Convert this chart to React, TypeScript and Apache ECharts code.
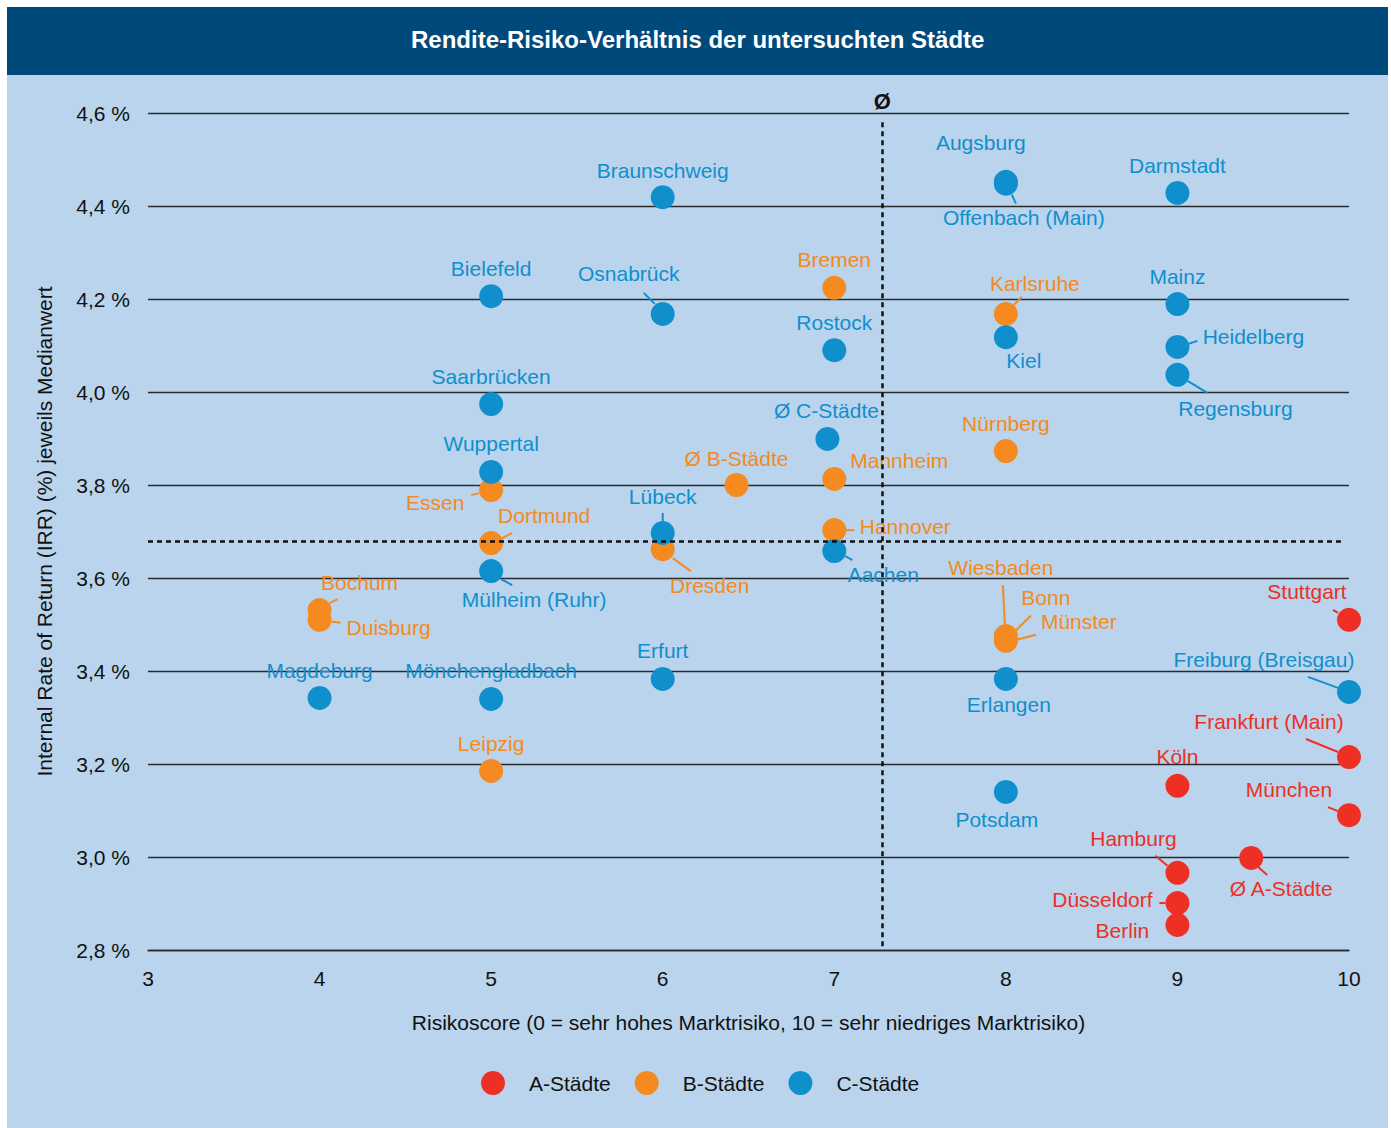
import React, { useEffect, useRef } from "react";
import * as echarts from "echarts";

// ---------- data ----------
const aCities = ["Stuttgart", "Frankfurt (Main)", "Köln", "München", "Ø A-Städte", "Hamburg", "Düsseldorf", "Berlin"];
const aRisk = [10, 10, 9, 10, 9.43, 9, 9, 9];
const aIrr = [3.51, 3.215, 3.153, 3.09, 2.998, 2.966, 2.901, 2.854];

const bCities = ["Bremen", "Karlsruhe", "Nürnberg", "Mannheim", "Ø B-Städte", "Essen", "Hannover", "Dortmund", "Dresden", "Bochum", "Duisburg", "Wiesbaden", "Bonn", "Münster", "Leipzig"];
const bRisk = [7, 8, 8, 7, 6.43, 5, 7, 5, 6, 4, 4, 8, 8, 8, 5];
const bIrr = [4.224, 4.168, 3.873, 3.813, 3.8, 3.789, 3.703, 3.675, 3.662, 3.531, 3.51, 3.475, 3.47, 3.465, 3.185];

const cCities = ["Braunschweig", "Offenbach (Main)", "Augsburg", "Darmstadt", "Bielefeld", "Osnabrück", "Mainz", "Kiel", "Rostock", "Heidelberg", "Regensburg", "Saarbrücken", "Ø C-Städte", "Wuppertal", "Lübeck", "Aachen", "Mülheim (Ruhr)", "Erlangen", "Erfurt", "Magdeburg", "Mönchengladbach", "Freiburg (Breisgau)", "Potsdam"];
const cRisk = [6, 8, 8, 9, 5, 6, 9, 8, 7, 9, 9, 5, 6.96, 5, 6, 7, 5, 8, 6, 4, 5, 10, 8];
const cIrr = [4.419, 4.448, 4.452, 4.428, 4.206, 4.168, 4.189, 4.118, 4.09, 4.097, 4.037, 3.974, 3.899, 3.828, 3.697, 3.658, 3.615, 3.383, 3.383, 3.342, 3.34, 3.355, 3.14];

const groupNames = ["A-Städte", "B-Städte", "C-Städte"];
const avgRisk = 7.28;
const avgIrr = 3.68;

const yTicks = { min: 2.8, max: 4.6, step: 0.2 };
const xTicks = { min: 3, max: 10, step: 1 };

// ---------- layout (pixel offsets, styles) ----------
const labelOffsets: Record<string, [number, number]> = {
  "Stuttgart": [-42, -28], "Frankfurt (Main)": [-80, -36], "Köln": [0, -29], "München": [-60, -26],
  "Ø A-Städte": [30, 31], "Hamburg": [-44, -34], "Düsseldorf": [-75, -4], "Berlin": [-55, 6],
  "Bremen": [0, -28], "Karlsruhe": [29, -30], "Nürnberg": [0, -28], "Mannheim": [65, -18],
  "Ø B-Städte": [0, -27], "Essen": [-56, 12], "Hannover": [71, -4], "Dortmund": [53, -28],
  "Dresden": [47, 36], "Bochum": [40, -28], "Duisburg": [69, 8], "Wiesbaden": [-5, -69],
  "Bonn": [40, -41], "Münster": [73, -19], "Leipzig": [0, -27],
  "Braunschweig": [0, -27], "Augsburg": [-25, -39], "Offenbach (Main)": [18, 34], "Darmstadt": [0, -27],
  "Bielefeld": [0, -28], "Osnabrück": [-34, -40], "Mainz": [0, -28], "Kiel": [18, 23],
  "Rostock": [0, -28], "Heidelberg": [76, -10], "Regensburg": [58, 34], "Saarbrücken": [0, -28],
  "Ø C-Städte": [-1, -28], "Wuppertal": [0, -28], "Lübeck": [0, -36], "Aachen": [49, 23],
  "Mülheim (Ruhr)": [43, 28], "Erlangen": [3, 26], "Erfurt": [0, -28], "Magdeburg": [0, -27],
  "Mönchengladbach": [0, -28], "Freiburg (Breisgau)": [-85, -32], "Potsdam": [-9, 28],
};

const leaderSegs: Record<string, [number, number, number, number]> = {
  "Stuttgart": [-16, -10, -11, -7], "Frankfurt (Main)": [-43, -18, -11, -5], "München": [-21, -8, -11, -4],
  "Ø A-Städte": [7, 9, 16, 17], "Hamburg": [-22, -17, -10, -7], "Düsseldorf": [-18, 0, -12, 0],
  "Karlsruhe": [8, -9, 16, -17], "Essen": [-20, 5, -12, 3], "Hannover": [11, 0, 20, 0],
  "Dortmund": [11, -5, 21, -10], "Dresden": [10, 9, 28, 22], "Bochum": [10, -7, 18, -11],
  "Duisburg": [12, 2, 21, 3], "Wiesbaden": [-3, -51, -1, -12], "Bonn": [10, -8, 25, -23],
  "Münster": [11, -1, 30, -6],
  "Offenbach (Main)": [6, 11, 10, 20], "Osnabrück": [-19, -21, -8, -10], "Heidelberg": [11, -3, 20, -6],
  "Regensburg": [10, 6, 30, 18], "Lübeck": [0, -20, 0, -11], "Aachen": [11, 5, 18, 9],
  "Mülheim (Ruhr)": [10, 8, 21, 14], "Freiburg (Breisgau)": [-41, -15, -11, -4],
};

const colors = ["#ee2f24", "#f48a20", "#108fcd"];
const FONT = "'Liberation Sans', Arial, Helvetica, sans-serif";

function buildPoints(names: string[], xs: number[], ys: number[]) {
  return names.map((n, i) => ({
    name: n,
    value: [xs[i], ys[i]],
    label: { offset: labelOffsets[n] || [0, -28] },
  }));
}

export default function App() {
  const ref = useRef<HTMLDivElement>(null);
  useEffect(() => {
    document.body.style.margin = "0";
    if (!ref.current) return;
    const chart = echarts.init(ref.current, undefined, { renderer: "svg" });

    const groups = [
      { names: aCities, xs: aRisk, ys: aIrr },
      { names: bCities, xs: bRisk, ys: bIrr },
      { names: cCities, xs: cRisk, ys: cIrr },
    ];

    const leaderItems: { value: number[]; seg: number[]; color: string }[] = [];
    groups.forEach((g, gi) => {
      g.names.forEach((n, i) => {
        if (leaderSegs[n]) leaderItems.push({ value: [g.xs[i], g.ys[i]], seg: leaderSegs[n], color: colors[gi] });
      });
    });

    const scatterSeries = groups.map((g, gi) => ({
      type: "scatter",
      name: groupNames[gi],
      symbol: "circle",
      symbolSize: 24,
      itemStyle: { color: colors[gi], opacity: 1 },
      label: {
        show: true,
        position: "inside",
        formatter: "{b}",
        color: colors[gi],
        fontSize: 21,
        fontFamily: FONT,
      },
      emphasis: { disabled: true },
      data: buildPoints(g.names, g.xs, g.ys),
      z: 3,
    }));

    const option: any = {
      animation: false,
      backgroundColor: "#ffffff",
      textStyle: { fontFamily: FONT },
      graphic: [
        { type: "rect", z: -10, silent: true, shape: { x: 7, y: 7, width: 1381, height: 1121 }, style: { fill: "#b9d4ec" } },
        { type: "rect", z: -9, silent: true, shape: { x: 7, y: 7, width: 1381, height: 68 }, style: { fill: "#00497b" } },
      ],
      title: {
        text: "Rendite-Risiko-Verhältnis der untersuchten Städte",
        left: 406,
        top: 22,
        textStyle: { color: "#ffffff", fontWeight: "bold", fontSize: 24, fontFamily: FONT },
      },
      legend: {
        data: groupNames.map((n) => ({ name: n, icon: "circle" })),
        left: 476,
        top: 1066,
        itemWidth: 24,
        itemHeight: 24,
        itemGap: 24,
        selectedMode: false,
        textStyle: { fontSize: 21, color: "#111", fontFamily: FONT, padding: [0, 0, 0, 19] },
      },
      grid: { left: 148, right: 42, top: 113, bottom: 178 },
      xAxis: {
        type: "value",
        min: xTicks.min,
        max: xTicks.max,
        interval: xTicks.step,
        name: "Risikoscore (0 = sehr hohes Marktrisiko, 10 = sehr niedriges Marktrisiko)",
        nameLocation: "middle",
        nameGap: 62,
        nameTextStyle: { fontSize: 21, color: "#111", fontFamily: FONT },
        axisLine: { show: true, lineStyle: { color: "#2a2a2a", width: 1.3 } },
        axisTick: { show: false },
        splitLine: { show: false },
        axisLabel: { fontSize: 21, color: "#111", margin: 18, fontFamily: FONT },
      },
      yAxis: {
        type: "value",
        min: yTicks.min,
        max: yTicks.max,
        interval: yTicks.step,
        name: "Internal Rate of Return (IRR) (%) jeweils Medianwert",
        nameLocation: "middle",
        nameGap: 93,
        nameTextStyle: { fontSize: 21, color: "#111", fontFamily: FONT },
        axisLine: { show: false },
        axisTick: { show: false },
        splitLine: { show: true, lineStyle: { color: "#2a2a2a", width: 1.3 } },
        axisLabel: {
          fontSize: 21,
          color: "#111",
          margin: 18,
          fontFamily: FONT,
          formatter: (v: number) => v.toFixed(1).replace(".", ",") + " %",
        },
      },
      series: [
        {
          type: "custom",
          name: "leaders",
          silent: true,
          z: 2,
          data: leaderItems.map((d) => d.value),
          renderItem: (params: any, api: any) => {
            const d = leaderItems[params.dataIndex];
            const p = api.coord([api.value(0), api.value(1)]);
            return {
              type: "line",
              shape: { x1: p[0] + d.seg[0], y1: p[1] + d.seg[1], x2: p[0] + d.seg[2], y2: p[1] + d.seg[3] },
              style: { stroke: d.color, lineWidth: 2 },
            };
          },
          markLine: {
            silent: true,
            symbol: "none",
            animation: false,
            lineStyle: { color: "#111", type: [5, 4], width: 2.5 },
            data: [
              [
                { coord: [xTicks.min, avgIrr], label: { show: false } },
                { coord: [9.953, avgIrr] },
              ],
              [
                {
                  coord: [avgRisk, 4.58],
                  label: {
                    show: true,
                    position: "start",
                    formatter: "Ø",
                    fontSize: 22,
                    fontWeight: "bold",
                    color: "#111",
                    distance: 10,
                    fontFamily: FONT,
                  },
                },
                { coord: [avgRisk, yTicks.min] },
              ],
            ],
          },
        },
        ...scatterSeries,
      ],
    };
    chart.setOption(option);
    return () => chart.dispose();
  }, []);
  return <div ref={ref} style={{ width: 1391, height: 1128 }} />;
}
